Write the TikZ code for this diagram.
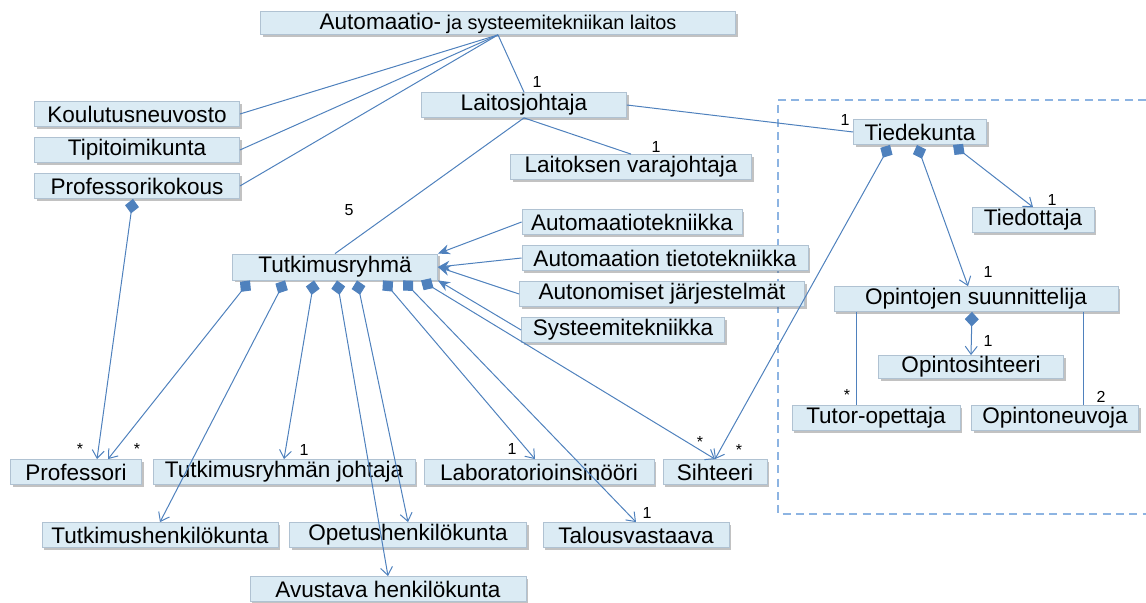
\documentclass[tikz,border=0pt]{standalone}
\usepackage{fontspec}
\setmainfont{Liberation Sans}
\usetikzlibrary{arrows.meta,shadows}

\definecolor{boxfill}{RGB}{219,235,244}
\definecolor{boxline}{RGB}{176,194,210}
\definecolor{linkblue}{RGB}{79,129,189}
\definecolor{framedash}{RGB}{141,180,226}

\tikzset{every picture/.style={line width=0.75pt}}
\tikzset{
  luokka/.style={draw=boxline, fill=boxfill, line width=0.6pt, inner sep=0pt,
    minimum height=18.75pt, font=\fontsize{16.9}{18}\selectfont,
    drop shadow={shadow xshift=1.8pt, shadow yshift=-1.8pt, opacity=0.4, fill=black!60}},
  kerroin/.style={inner sep=0pt, font=\fontsize{12}{12}\selectfont},
  yhteys/.style={draw=linkblue, line width=0.75pt},
  kooste/.style={yhteys, {Diamond[length=11pt,width=10.5pt]}-{Straight Barb[length=6pt,width=9pt]}},
  perii/.style={yhteys, -{Stealth[length=9pt,width=7.5pt]}},
}

\begin{document}
\begin{tikzpicture}[x=0.75pt,y=0.75pt,yscale=-1,xscale=1]
\useasboundingbox (0,0) rectangle (1146,603);

%Shape: dashed frame of the faculty
\draw [draw=framedash, line width=1.5pt, dash pattern=on 6pt off 4pt] (1146,100) -- (778,100) -- (778,514) -- (1146,514) ;

% Text Node
\node [luokka, minimum width=356.25pt, minimum height=17.25pt] (laitos) at (498,23) {{\fontsize{16.9}{18}\selectfont Automaatio-}{\fontsize{14.9}{18}\selectfont\ ja systeemitekniikan laitos}};
% Text Node
\node [luokka, minimum width=153.75pt] (koulu) at (137,114) {Koulutusneuvosto};
% Text Node
\node [luokka, minimum width=153.75pt] (tipi) at (137,150) {Tipitoimikunta};
% Text Node
\node [luokka, minimum width=153.75pt] (profk) at (137,186) {Professorikokous};
% Text Node
\node [luokka, minimum width=153.75pt] (lj) at (524,105) {Laitosjohtaja};
% Text Node
\node [luokka, minimum width=180.75pt] (vara) at (631,167) {Laitoksen varajohtaja};
% Text Node
\node [luokka, minimum width=99.75pt] (tdk) at (920,132) {Tiedekunta};
% Text Node
\node [luokka, minimum width=91.5pt] (tiedottaja) at (1033,220) {Tiedottaja};
% Text Node
\node [luokka, minimum width=213pt] (opsu) at (976,299) {Opintojen suunnittelija};
% Text Node
\node [luokka, minimum width=138.75pt, minimum height=17.25pt] (opsiht) at (971,367) {Opintosihteeri};
% Text Node
\node [luokka, minimum width=126pt] (tutor) at (876,418) {Tutor-opettaja};
% Text Node
\node [luokka, minimum width=125.25pt] (neuvoja) at (1055,418) {Opintoneuvoja};
% Text Node
\node [luokka, minimum width=153.75pt, minimum height=19.5pt] (tr) at (335,267) {Tutkimusryhmä};
% Text Node
\node [luokka, minimum width=165pt] (autek) at (632,222) {Automaatiotekniikka};
% Text Node
\node [luokka, minimum width=214.5pt] (atiet) at (665,258) {Automaation tietotekniikka};
% Text Node
\node [luokka, minimum width=213.75pt] (auton) at (662,294) {Autonomiset järjestelmät};
% Text Node
\node [luokka, minimum width=152.25pt] (syst) at (623,330) {Systeemitekniikka};
% Text Node
\node [luokka, minimum width=98.25pt] (prof) at (76,472) {Professori};
% Text Node
\node [luokka, minimum width=196.5pt] (trj) at (284,472) {Tutkimusryhmän johtaja};
% Text Node
\node [luokka, minimum width=172.5pt] (lab) at (539,472) {Laboratorioinsinööri};
% Text Node
\node [luokka, minimum width=78pt] (siht) at (715,472) {Sihteeri};
% Text Node
\node [luokka, minimum width=177pt] (tkh) at (160,535) {Tutkimushenkilökunta};
% Text Node
\node [luokka, minimum width=177.75pt] (opetus) at (408,535) {Opetushenkilökunta};
% Text Node
\node [luokka, minimum width=139.5pt] (talous) at (636,535) {Talousvastaava};
% Text Node
\node [luokka, minimum width=207pt] (avust) at (388,589) {Avustava henkilökunta};

%Straight Lines: department
\draw [yhteys] (laitos.south) -- (koulu.east) ;
\draw [yhteys] (laitos.south) -- (tipi.east) ;
\draw [yhteys] (laitos.south) -- (profk.east) ;
\draw [yhteys] (laitos.south) -- (lj.north) ;
\draw [yhteys] (lj.east) -- (tdk.west) ;
\draw [yhteys] (lj.south) -- (vara.north) ;
\draw [yhteys] (lj.south) -- (tr.north) ;
\draw [kooste] ([xshift=-3pt]profk.south) -- ([xshift=15.75pt]prof.north) ;

%Straight Lines: research group
\draw [kooste] ([xshift=-63.75pt]tr.south) -- ([xshift=24pt]prof.north) ;
\draw [kooste] ([xshift=-37.5pt]tr.south) -- (tkh.north) ;
\draw [kooste] ([xshift=-15.75pt]tr.south) -- (trj.north) ;
\draw [kooste] ([xshift=1.5pt]tr.south) -- (avust.north) ;
\draw [kooste] ([xshift=16.5pt]tr.south) -- (opetus.north) ;
\draw [kooste] ([xshift=36pt]tr.south) -- ([xshift=-3pt]lab.north) ;
\draw [kooste] ([xshift=51pt]tr.south) -- (talous.north) ;
\draw [kooste] ([xshift=64.5pt]tr.south) -- (siht.north) ;
\draw [perii] (autek.west) -- (tr.north east) ;
\draw [perii] (atiet.west) -- (tr.east) ;
\draw [perii] (auton.west) -- (tr.east) ;
\draw [perii] (syst.west) -- (tr.south east) ;

%Straight Lines: faculty
\draw [kooste] ([xshift=-22.5pt]tdk.south) -- (siht.north) ;
\draw [kooste] ([xshift=-2.25pt]tdk.south) -- ([xshift=-6pt]opsu.north) ;
\draw [kooste] ([xshift=24.75pt]tdk.south) -- (tiedottaja.north) ;
\draw [kooste] ([xshift=-3pt]opsu.south) -- (opsiht.north) ;
\draw [yhteys] ([xshift=-90pt]opsu.south) -- ([xshift=-90pt]opsu.south |- tutor.north) ;
\draw [yhteys] ([xshift=80.25pt]opsu.south) -- ([xshift=80.25pt]opsu.south |- neuvoja.north) ;

% Multiplicities
\node [kerroin] (k1) at (537,82) {1};
\node [kerroin] (k2) at (845,120) {1};
\node [kerroin] (k3) at (656,147) {1};
\node [kerroin] (k4) at (349,210) {5};
\node [kerroin] (k5) at (80,449) {*};
\node [kerroin] (k6) at (137,449) {*};
\node [kerroin] (k7) at (304,450) {1};
\node [kerroin] (k8) at (512,449) {1};
\node [kerroin] (k9) at (647,513) {1};
\node [kerroin] (k10) at (700,442) {*};
\node [kerroin] (k11) at (739,450) {*};
\node [kerroin] (k12) at (1052,200) {1};
\node [kerroin] (k13) at (988,272) {1};
\node [kerroin] (k14) at (988,341) {1};
\node [kerroin] (k15) at (847,395) {*};
\node [kerroin] (k16) at (1101,397) {2};

\end{tikzpicture}
\end{document}
